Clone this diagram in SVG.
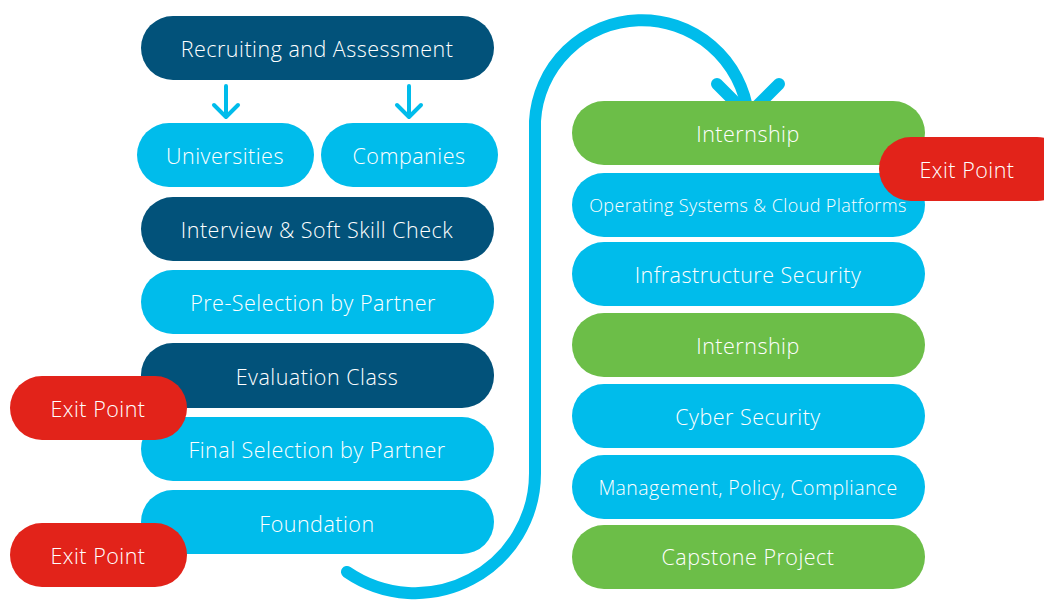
<svg xmlns="http://www.w3.org/2000/svg" width="1044" height="609" viewBox="0 0 1044 609">
<style>
text{font-family:"Open Sans","Liberation Sans",sans-serif;font-weight:300;fill:#ffffff;text-anchor:middle;dominant-baseline:central;font-size:21.5px;letter-spacing:0.5px}
.dark{fill:#02527a}
.blue{fill:#00bceb}
.green{fill:#6cbe48}
.red{fill:#e2231a}
.conn{fill:none;stroke:#00bceb;stroke-linecap:round;stroke-linejoin:round}
</style>
<rect width="1044" height="609" fill="#ffffff"/>
<g id="connectors">
<path class="conn" stroke-width="4" d="M226,86 V116 M214,105 L226,117 L238,105"/>
<path class="conn" stroke-width="4" d="M409,86 V116 M397,105 L409,117 L421,105"/>
<path class="conn" stroke-width="12" d="M347,572 A120,120 0 0 0 535,473 L535,121 A107,107 0 0 1 748,114"/>
<path class="conn" stroke-width="12" d="M717,84 L748,115 L779,84"/>
</g>
<g id="n-recruiting"><rect class="dark" x="141" y="16" width="353" height="64" rx="32"/><text x="317" y="48">Recruiting and Assessment</text></g>
<g id="n-universities"><rect class="blue" x="137" y="123" width="177" height="64" rx="32"/><text x="225" y="155">Universities</text></g>
<g id="n-companies"><rect class="blue" x="321" y="123" width="177" height="64" rx="32"/><text x="409" y="155">Companies</text></g>
<g id="n-interview"><rect class="dark" x="141" y="197" width="353" height="64" rx="32"/><text x="317" y="229">Interview &amp; Soft Skill Check</text></g>
<g id="n-preselection"><rect class="blue" x="141" y="270" width="353" height="64" rx="32"/><text x="313" y="302">Pre-Selection by Partner</text></g>
<g id="n-evaluation"><rect class="dark" x="141" y="343" width="353" height="65" rx="32"/><text x="317" y="376">Evaluation Class</text></g>
<g id="n-finalselection"><rect class="blue" x="141" y="417" width="353" height="64" rx="32"/><text x="317" y="449">Final Selection by Partner</text></g>
<g id="n-foundation"><rect class="blue" x="141" y="490" width="353" height="64" rx="32"/><text x="317" y="523">Foundation</text></g>
<g id="n-exit1"><rect class="red" x="10" y="376" width="177" height="64" rx="32"/><text x="98" y="408">Exit Point</text></g>
<g id="n-exit2"><rect class="red" x="10" y="523" width="177" height="64" rx="32"/><text x="98" y="555">Exit Point</text></g>
<g id="n-internship1"><rect class="green" x="572" y="101" width="353" height="64" rx="32"/><text x="748" y="133">Internship</text></g>
<g id="n-os"><rect class="blue" x="572" y="173" width="353" height="64" rx="32"/><text x="748" y="205" style="font-size:18px;letter-spacing:0.4px">Operating Systems &amp; Cloud Platforms</text></g>
<g id="n-infra"><rect class="blue" x="572" y="242" width="353" height="64" rx="32"/><text x="748" y="274">Infrastructure Security</text></g>
<g id="n-internship2"><rect class="green" x="572" y="313" width="353" height="64" rx="32"/><text x="748" y="345">Internship</text></g>
<g id="n-cyber"><rect class="blue" x="572" y="384" width="353" height="64" rx="32"/><text x="748" y="416">Cyber Security</text></g>
<g id="n-management"><rect class="blue" x="572" y="455" width="353" height="64" rx="32"/><text x="748" y="487" style="font-size:19.5px;letter-spacing:0.4px">Management, Policy, Compliance</text></g>
<g id="n-capstone"><rect class="green" x="572" y="525" width="353" height="64" rx="32"/><text x="748" y="556">Capstone Project</text></g>
<g id="n-exit3"><rect class="red" x="879" y="137" width="190" height="64" rx="32"/><text x="967" y="169">Exit Point</text></g>
</svg>
